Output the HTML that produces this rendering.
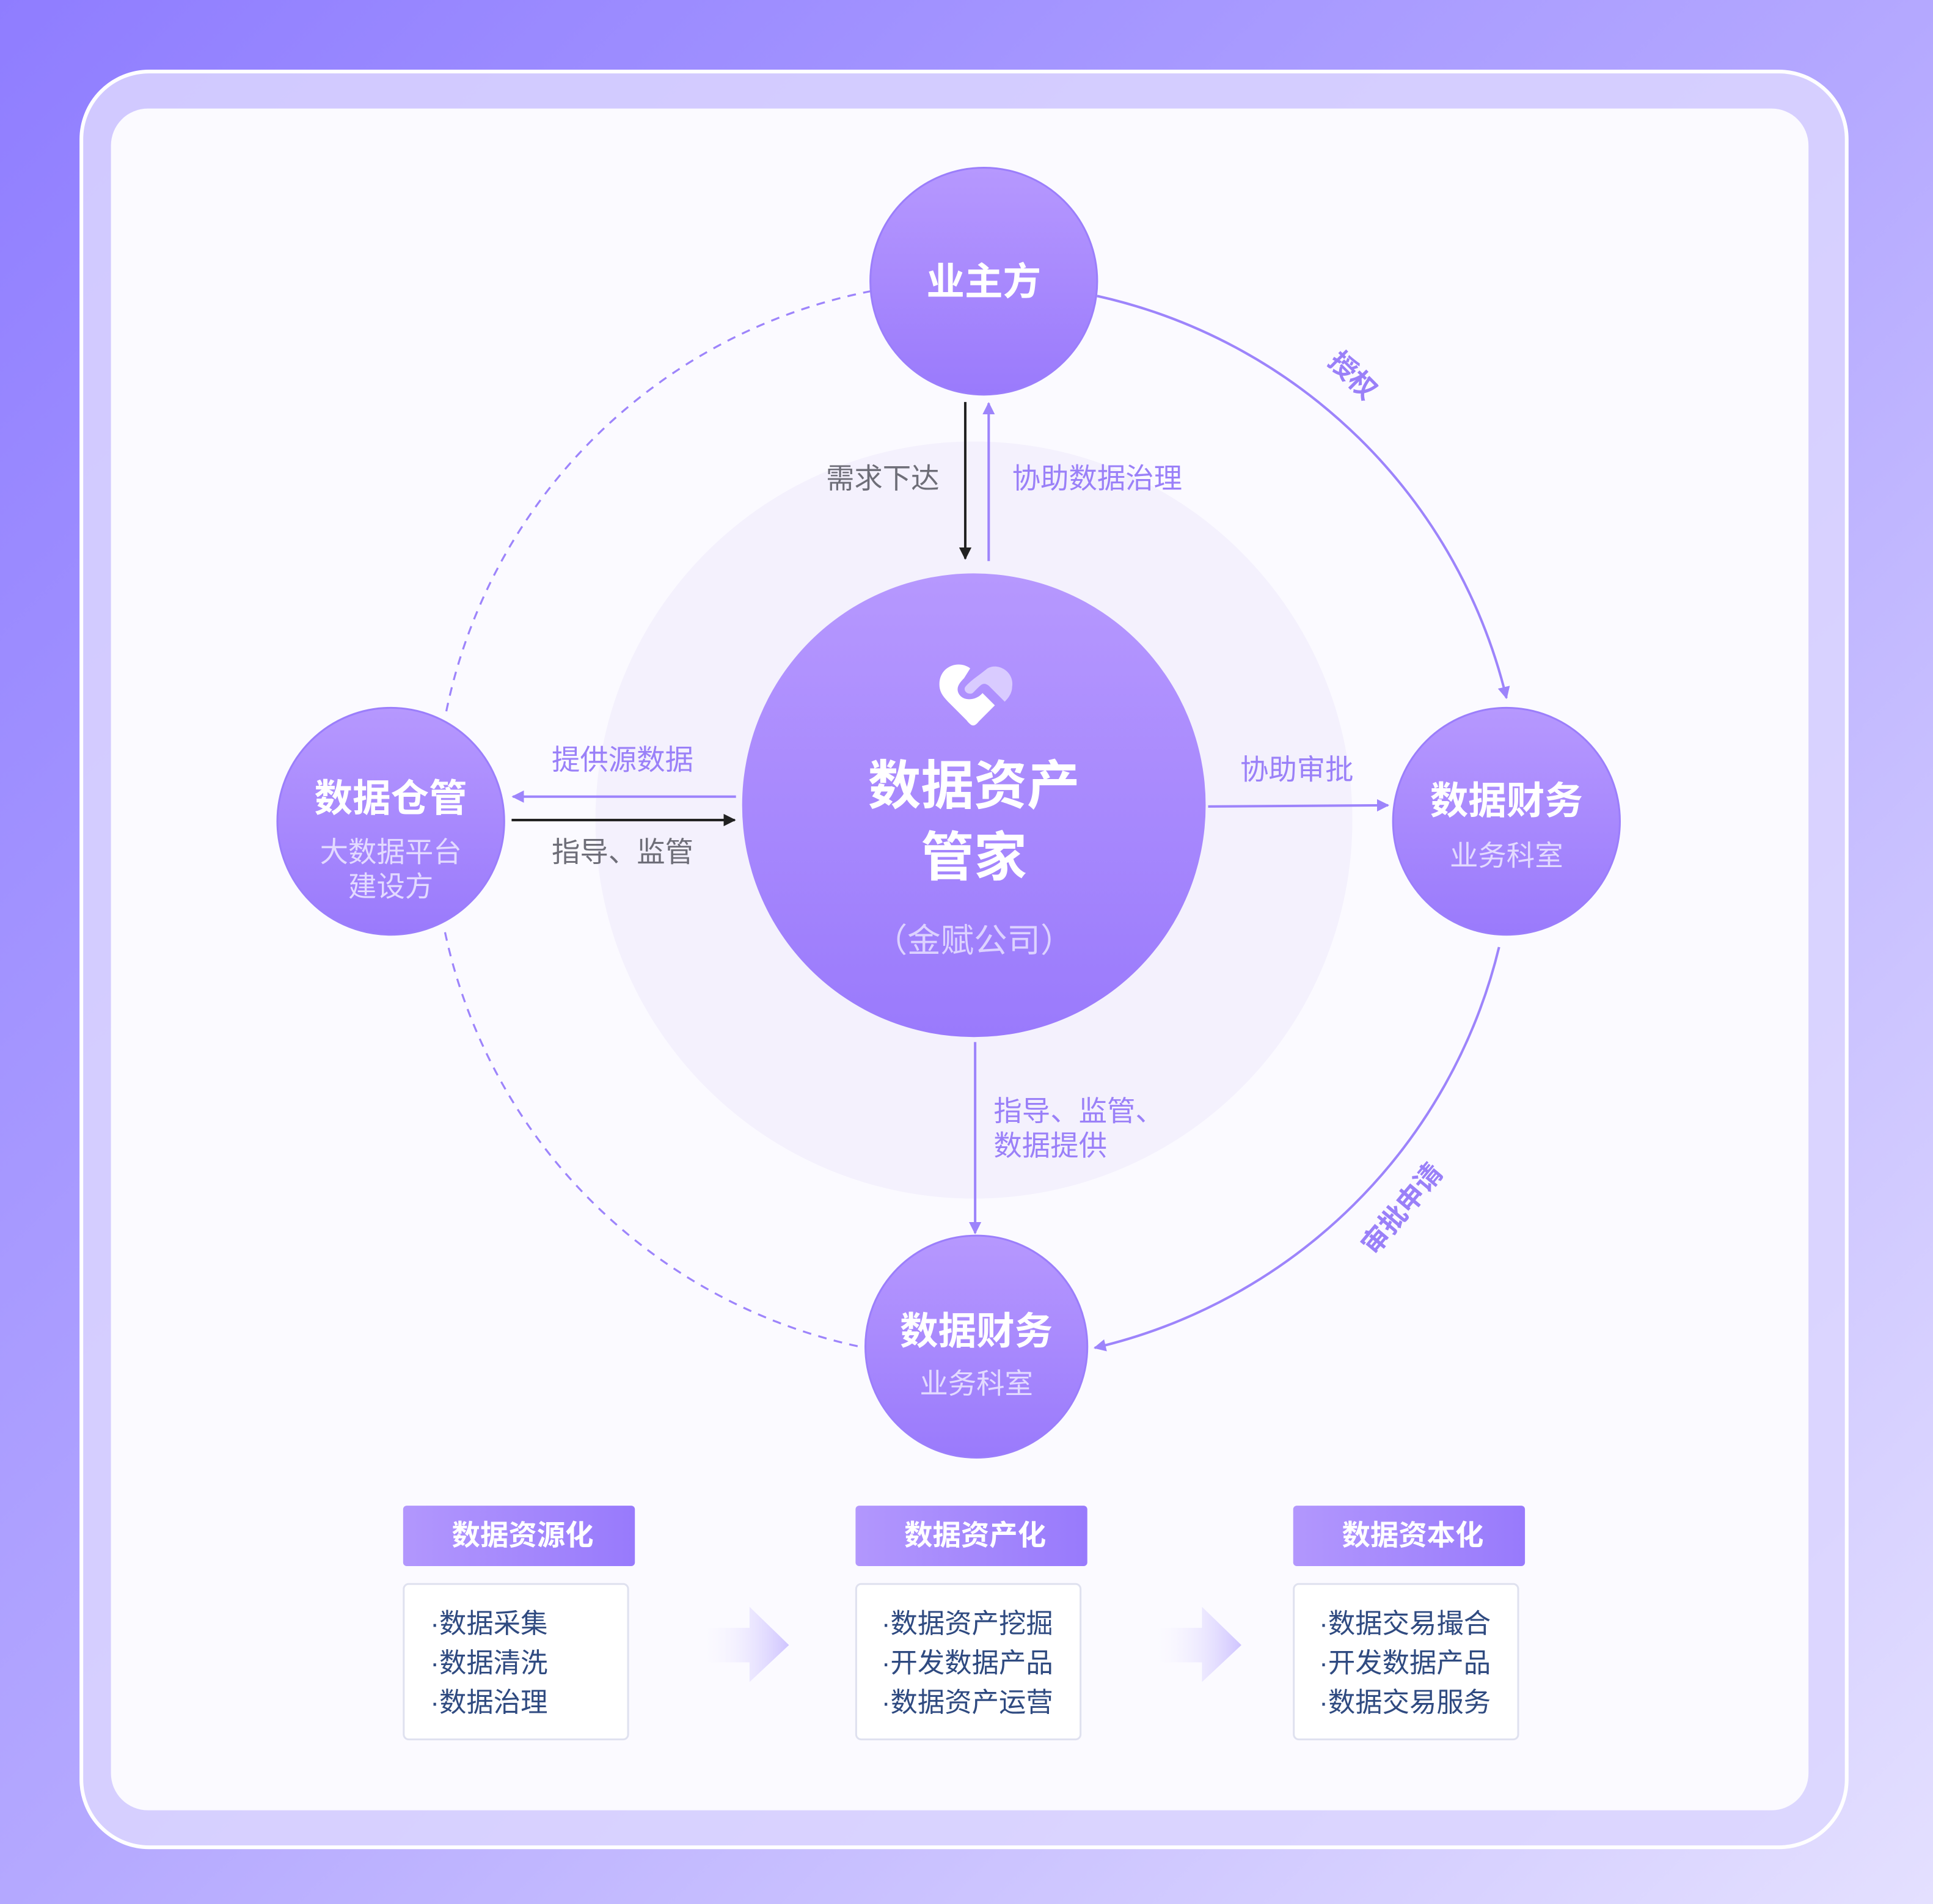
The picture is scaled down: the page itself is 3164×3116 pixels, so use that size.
<!DOCTYPE html>
<html><head><meta charset="utf-8"><style>
html,body{margin:0;padding:0;width:3164px;height:3116px;overflow:hidden}
svg{display:block}
text{font-family:"Liberation Sans","Noto Sans CJK SC",sans-serif}
</style></head><body>
<svg width="3164" height="3116" viewBox="0 0 1568 1544" preserveAspectRatio="none" xmlns="http://www.w3.org/2000/svg">
<defs>
<linearGradient id="bg" x1="0" y1="0" x2="1" y2="1"><stop offset="0" stop-color="#8f7dff"/><stop offset="0.5" stop-color="#b4a8ff"/><stop offset="1" stop-color="#e4e0ff"/></linearGradient>
<linearGradient id="cg" x1="0" y1="0" x2="0" y2="1"><stop offset="0" stop-color="#b698fe"/><stop offset="1" stop-color="#9a7afc"/></linearGradient>
<linearGradient id="hg" x1="0" y1="0" x2="1" y2="0"><stop offset="0" stop-color="#b297fd"/><stop offset="1" stop-color="#987afc"/></linearGradient>
<linearGradient id="ag" x1="0" y1="0" x2="1" y2="0"><stop offset="0" stop-color="#f6f4ff" stop-opacity="0"/><stop offset="1" stop-color="#cfc4ff"/></linearGradient>
<marker id="mp" viewBox="0 0 10 10" refX="9" refY="5" markerWidth="5" markerHeight="5" orient="auto"><path d="M0,0L10,5L0,10z" fill="#9d84fb"/></marker>
<marker id="mk" viewBox="0 0 10 10" refX="9" refY="5" markerWidth="5" markerHeight="5" orient="auto"><path d="M0,0L10,5L0,10z" fill="#222"/></marker>
</defs>
<rect width="1568" height="1544" fill="url(#bg)"/>
<rect x="66" y="58" width="1432" height="1440" rx="55" fill="#dcd6ff" fill-opacity="0.85" stroke="#fff" stroke-width="3"/>
<rect x="90" y="88" width="1377" height="1380" rx="30" fill="#fbfaff"/>
<circle cx="790" cy="665" r="307" fill="#f4f1fd"/>
<path d="M707,236 A437,437 0 0 0 361,582" fill="none" stroke="#9d84fb" stroke-width="1.6" stroke-dasharray="7,6"/>
<path d="M361,756 A437,437 0 0 0 702,1093" fill="none" stroke="#9d84fb" stroke-width="1.6" stroke-dasharray="7,6"/>
<path d="M890,240 A440,440 0 0 1 1222,566" fill="none" stroke="#9d84fb" stroke-width="2" marker-end="url(#mp)"/>
<path d="M1216,768 A440,440 0 0 1 888,1093" fill="none" stroke="#9d84fb" stroke-width="2" marker-end="url(#mp)"/>
<text x="1097" y="312" font-size="22" font-weight="bold" fill="#9a80f8" text-anchor="middle" transform="rotate(45 1097 305)">授权</text>
<text x="1137" y="988" font-size="22" font-weight="bold" fill="#9a80f8" text-anchor="middle" transform="rotate(-50 1137 980)">审批申请</text>
<line x1="783" y1="326" x2="783" y2="453" stroke="#222" stroke-width="2" marker-end="url(#mk)"/>
<line x1="802" y1="455" x2="802" y2="327" stroke="#9d84fb" stroke-width="2" marker-end="url(#mp)"/>
<text x="762" y="396" font-size="23" fill="#6e6e78" text-anchor="end">需求下达</text>
<text x="821" y="396" font-size="23" fill="#9a80f8">协助数据治理</text>
<line x1="597" y1="646" x2="416" y2="646" stroke="#9d84fb" stroke-width="2" marker-end="url(#mp)"/>
<line x1="415" y1="665" x2="596" y2="665" stroke="#222" stroke-width="2" marker-end="url(#mk)"/>
<text x="505" y="624" font-size="23" fill="#9a80f8" text-anchor="middle">提供源数据</text>
<text x="505" y="699" font-size="23" fill="#6e6e78" text-anchor="middle">指导、监管</text>
<line x1="980" y1="654" x2="1126" y2="653" stroke="#9d84fb" stroke-width="2" marker-end="url(#mp)"/>
<text x="1052" y="632" font-size="23" fill="#9a80f8" text-anchor="middle">协助审批</text>
<line x1="791" y1="845" x2="791" y2="1000" stroke="#9d84fb" stroke-width="2" marker-end="url(#mp)"/>
<text x="806" y="909" font-size="23" fill="#9a80f8">指导、监管、</text>
<text x="806" y="937" font-size="23" fill="#9a80f8">数据提供</text>
<circle cx="798" cy="228" r="92" fill="url(#cg)" stroke="#9b7efb" stroke-width="1.5"/>
<text x="798" y="239" font-size="31" font-weight="bold" fill="#fff" text-anchor="middle">业主方</text>
<circle cx="790" cy="653" r="188" fill="url(#cg)"/>
<g transform="translate(790,565)">
<path d="M-3,-23 C-12,-30 -28,-25 -28,-10 C-28,-4 -25,0 -20,5 L-6,19 C-2,24 0,25 4,20 L17,7 L7,-3 C2,3 -8,4 -12,-2 C-15,-7 -12,-11 -8,-15 Z" fill="#fff"/>
<path d="M11,-23 C20,-28 33,-20 31,-8 C31,-3 28,1 25,4 L12,-9 C8,-12 6,-10 3,-7 L-1,-3 C-5,-1 -9,-5 -7,-8 C-3,-13 5,-18 11,-23 Z" fill="#d9cbff"/>
</g>
<text x="790" y="652" font-size="43" font-weight="bold" fill="#fff" text-anchor="middle">数据资产</text>
<text x="790" y="710" font-size="43" font-weight="bold" fill="#fff" text-anchor="middle">管家</text>
<text x="790" y="772" font-size="27" fill="#ddd2ff" text-anchor="middle">（金赋公司）</text>
<circle cx="317" cy="666" r="92" fill="url(#cg)" stroke="#9b7efb" stroke-width="1.5"/>
<text x="317" y="658" font-size="31" font-weight="bold" fill="#fff" text-anchor="middle">数据仓管</text>
<text x="317" y="699" font-size="23" fill="#e3daff" text-anchor="middle">大数据平台</text>
<text x="317" y="727" font-size="23" fill="#e3daff" text-anchor="middle">建设方</text>
<circle cx="1222" cy="666" r="92" fill="url(#cg)" stroke="#9b7efb" stroke-width="1.5"/>
<text x="1222" y="660" font-size="31" font-weight="bold" fill="#fff" text-anchor="middle">数据财务</text>
<text x="1222" y="702" font-size="23" fill="#e3daff" text-anchor="middle">业务科室</text>
<circle cx="792" cy="1092" r="90" fill="url(#cg)" stroke="#9b7efb" stroke-width="1.5"/>
<text x="792" y="1090" font-size="31" font-weight="bold" fill="#fff" text-anchor="middle">数据财务</text>
<text x="792" y="1130" font-size="23" fill="#e3daff" text-anchor="middle">业务科室</text>
<g font-size="22">
<rect x="327" y="1221" width="188" height="49" rx="3" fill="url(#hg)"/>
<text x="424" y="1253" fill="#fff" font-size="23" font-weight="bold" text-anchor="middle">数据资源化</text>
<rect x="327.5" y="1284.5" width="182" height="126" rx="4" fill="#fff" stroke="#dfe1ef" stroke-width="1.5"/>
<text x="349" y="1324" fill="#2f4a80">·数据采集</text>
<text x="349" y="1356" fill="#2f4a80">·数据清洗</text>
<text x="349" y="1388" fill="#2f4a80">·数据治理</text>
<path d="M570,1320 H608 V1303 L640,1334 L608,1364 V1348 H570 Z" fill="url(#ag)"/>
<rect x="694" y="1221" width="188" height="49" rx="3" fill="url(#hg)"/>
<text x="791" y="1253" fill="#fff" font-size="23" font-weight="bold" text-anchor="middle">数据资产化</text>
<rect x="694.5" y="1284.5" width="182" height="126" rx="4" fill="#fff" stroke="#dfe1ef" stroke-width="1.5"/>
<text x="715" y="1324" fill="#2f4a80">·数据资产挖掘</text>
<text x="715" y="1356" fill="#2f4a80">·开发数据产品</text>
<text x="715" y="1388" fill="#2f4a80">·数据资产运营</text>
<path d="M937,1320 H975 V1303 L1007,1334 L975,1364 V1348 H937 Z" fill="url(#ag)"/>
<rect x="1049" y="1221" width="188" height="49" rx="3" fill="url(#hg)"/>
<text x="1146" y="1253" fill="#fff" font-size="23" font-weight="bold" text-anchor="middle">数据资本化</text>
<rect x="1049.5" y="1284.5" width="182" height="126" rx="4" fill="#fff" stroke="#dfe1ef" stroke-width="1.5"/>
<text x="1070" y="1324" fill="#2f4a80">·数据交易撮合</text>
<text x="1070" y="1356" fill="#2f4a80">·开发数据产品</text>
<text x="1070" y="1388" fill="#2f4a80">·数据交易服务</text>
</g>
</svg>
</body></html>
